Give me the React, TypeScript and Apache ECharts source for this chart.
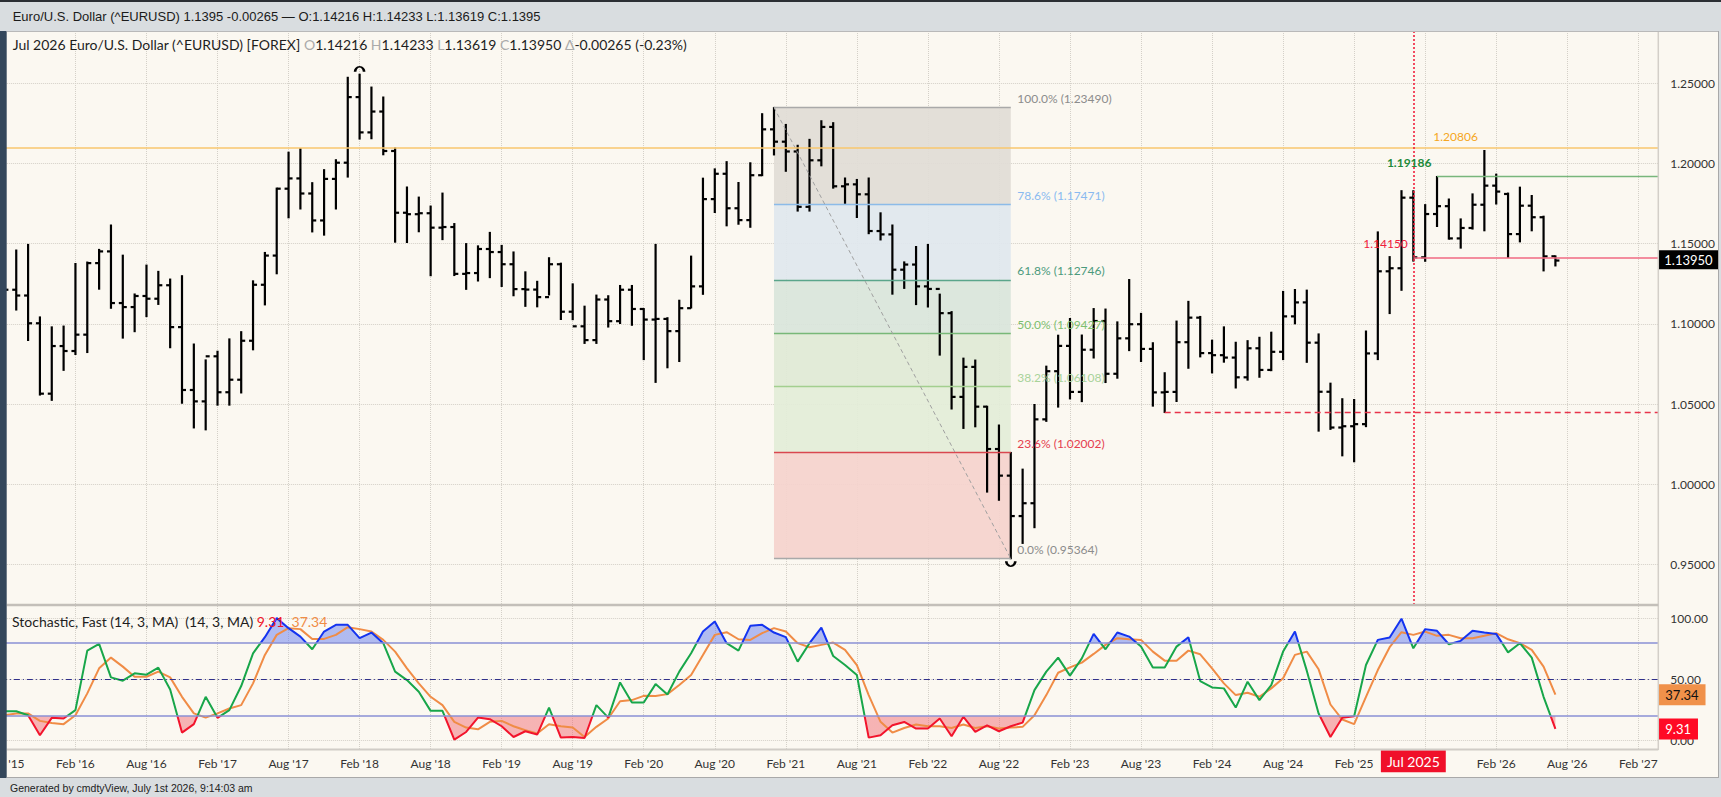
import React, { useEffect, useRef } from 'react';
import * as echarts from 'echarts';

// ---------- DATA (monthly, first bar = Aug 2015, last bar = Jul 2026) ----------
const MONTH_NAMES = ['Jan', 'Feb', 'Mar', 'Apr', 'May', 'Jun', 'Jul', 'Aug', 'Sep', 'Oct', 'Nov', 'Dec'];
const START_YEAR = 2015;
const START_MONTH = 7; // Aug

const OPEN = [
  1.0983, 1.1213, 1.1177, 1.1004, 1.0565,
  1.0862, 1.0831, 1.0933, 1.1379, 1.1452, 1.1130, 1.1105, 1.1174, 1.1157, 1.1241, 1.0980, 1.0588,
  1.0517, 1.0798, 1.0574, 1.0652, 1.0895, 1.1244, 1.1426, 1.1843, 1.1907, 1.1813, 1.1645, 1.1904,
  1.2005, 1.2414, 1.2194, 1.2324, 1.2078, 1.1693, 1.1684, 1.1690, 1.1600, 1.1604, 1.1312, 1.1317,
  1.1467, 1.1448, 1.1372, 1.1217, 1.1214, 1.1167, 1.1372, 1.1076, 1.0985, 1.0899, 1.1152, 1.1017,
  1.1213, 1.1093, 1.1027, 1.1031, 1.0955, 1.1098, 1.1234, 1.1778, 1.1936, 1.1721, 1.1647, 1.1927,
  1.2213, 1.2136, 1.2075, 1.1730, 1.2020, 1.2228, 1.1858, 1.1870, 1.1808, 1.1579, 1.1558, 1.1338,
  1.1370, 1.1234, 1.1218, 1.1067, 1.0545, 1.0732, 1.0484, 1.0220, 1.0054, 0.9802, 0.9882, 1.0405,
  1.0705, 1.0863, 1.0576, 1.0839, 1.1018, 1.0689, 1.0910, 1.0998, 1.0844, 1.0573, 1.0576, 1.0886,
  1.1039, 1.0818, 1.0805, 1.0790, 1.0667, 1.0848, 1.0713, 1.0826, 1.1047, 1.1134, 1.0883, 1.0577,
  1.0354, 1.0362, 1.0375, 1.0816, 1.1328, 1.1347, 1.1787, 1.1415, 1.1685, 1.1734, 1.1533, 1.1598,
  1.1743, 1.1862, 1.1810, 1.1560, 1.1737, 1.1665, 1.14216,
];
const HIGH = [
  1.1714, 1.1460, 1.1495, 1.1043, 1.0981,
  1.0986, 1.1376, 1.1385, 1.1464, 1.1616, 1.1428, 1.1186, 1.1366, 1.1327, 1.1279, 1.1300, 1.0874,
  1.0775, 1.0829, 1.0906, 1.0951, 1.1268, 1.1445, 1.1846, 1.2070, 1.2092, 1.1880, 1.1961, 1.2023,
  1.2537, 1.2556, 1.2476, 1.2414, 1.2096, 1.1853, 1.1790, 1.1734, 1.1815, 1.1625, 1.1500, 1.1486,
  1.1570, 1.1489, 1.1448, 1.1324, 1.1265, 1.1412, 1.1378, 1.1249, 1.1110, 1.1179, 1.1175, 1.1239,
  1.1239, 1.1095, 1.1495, 1.1038, 1.1147, 1.1422, 1.1908, 1.1966, 1.2011, 1.1881, 1.2004, 1.2310,
  1.2349, 1.2243, 1.2113, 1.2150, 1.2266, 1.2254, 1.1909, 1.1900, 1.1909, 1.1692, 1.1616, 1.1386,
  1.1482, 1.1495, 1.1185, 1.1076, 1.0786, 1.0774, 1.0486, 1.0369, 1.0198, 1.0094, 1.0497, 1.0736,
  1.0929, 1.1033, 1.0930, 1.1095, 1.1092, 1.1012, 1.1276, 1.1065, 1.0882, 1.0695, 1.1017, 1.1140,
  1.1046, 1.0898, 1.0981, 1.0885, 1.0895, 1.0916, 1.0948, 1.1202, 1.1214, 1.1210, 1.0937, 1.0630,
  1.0533, 1.0528, 1.0955, 1.1573, 1.1419, 1.1830, 1.1830, 1.1743, 1.19186, 1.1778, 1.1654, 1.1810,
  1.20806, 1.1933, 1.1815, 1.1852, 1.1800, 1.1671, 1.14233,
];
const LOW = [
  1.0848, 1.1087, 1.0897, 1.0557, 1.0524,
  1.0711, 1.0810, 1.0822, 1.1217, 1.1098, 1.0912, 1.0952, 1.1046, 1.1122, 1.0852, 1.0506, 1.0352,
  1.0340, 1.0494, 1.0494, 1.0570, 1.0839, 1.1119, 1.1313, 1.1662, 1.1717, 1.1574, 1.1554, 1.1717,
  1.1916, 1.2153, 1.2155, 1.2055, 1.1510, 1.1508, 1.1575, 1.1301, 1.1526, 1.1302, 1.1216, 1.1268,
  1.1289, 1.1234, 1.1176, 1.1110, 1.1107, 1.1181, 1.1028, 1.1027, 1.0879, 1.0879, 1.0981, 1.1003,
  1.0992, 1.0778, 1.0636, 1.0727, 1.0766, 1.1100, 1.1185, 1.1695, 1.1612, 1.1622, 1.1603, 1.1925,
  1.2054, 1.1952, 1.1704, 1.1704, 1.1986, 1.1847, 1.1752, 1.1664, 1.1563, 1.1524, 1.1186, 1.1222,
  1.1121, 1.1106, 1.0806, 1.0470, 1.0349, 1.0359, 0.9952, 0.9901, 0.95364, 0.9632, 0.9730, 1.0393,
  1.0482, 1.0533, 1.0516, 1.0788, 1.0635, 1.0662, 1.0834, 1.0766, 1.0488, 1.0448, 1.0517, 1.0724,
  1.0795, 1.0695, 1.0762, 1.0601, 1.0650, 1.0668, 1.0709, 1.0778, 1.1001, 1.0761, 1.0332, 1.0343,
  1.0178, 1.0141, 1.0360, 1.0778, 1.1065, 1.1210, 1.1392, 1.1391, 1.1608, 1.1529, 1.1473, 1.1592,
  1.1581, 1.1748, 1.1415, 1.1512, 1.1581, 1.1331, 1.13619,
];
const CLOSE = [
  1.1213, 1.1177, 1.1004, 1.0565, 1.0862,
  1.0831, 1.0933, 1.1379, 1.1452, 1.1130, 1.1105, 1.1174, 1.1157, 1.1241, 1.0980, 1.0588, 1.0517,
  1.0798, 1.0574, 1.0652, 1.0895, 1.1244, 1.1426, 1.1843, 1.1907, 1.1813, 1.1645, 1.1904, 1.2005,
  1.2414, 1.2194, 1.2324, 1.2078, 1.1693, 1.1684, 1.1690, 1.1600, 1.1604, 1.1312, 1.1317, 1.1467,
  1.1448, 1.1372, 1.1217, 1.1214, 1.1167, 1.1372, 1.1076, 1.0985, 1.0899, 1.1152, 1.1017, 1.1213,
  1.1093, 1.1027, 1.1031, 1.0955, 1.1098, 1.1234, 1.1778, 1.1936, 1.1721, 1.1647, 1.1927, 1.2213,
  1.2136, 1.2075, 1.1730, 1.2020, 1.2228, 1.1858, 1.1870, 1.1808, 1.1579, 1.1558, 1.1338, 1.1370,
  1.1234, 1.1218, 1.1067, 1.0545, 1.0732, 1.0484, 1.0220, 1.0054, 0.9802, 0.9882, 1.0405, 1.0705,
  1.0863, 1.0576, 1.0839, 1.1018, 1.0689, 1.0910, 1.0998, 1.0844, 1.0573, 1.0576, 1.0886, 1.1039,
  1.0818, 1.0805, 1.0790, 1.0667, 1.0848, 1.0713, 1.0826, 1.1047, 1.1134, 1.0883, 1.0577, 1.0354,
  1.0362, 1.0375, 1.0816, 1.1328, 1.1347, 1.1787, 1.1415, 1.1685, 1.1734, 1.1533, 1.1598, 1.1743,
  1.1862, 1.1825, 1.1560, 1.1737, 1.1665, 1.1421, 1.1395,
];
// Stochastic Fast (14,3) values
const STOCH_K = [
  23.8, 23.8, 20.5, 4.1, 18.4, 17.8, 24.7, 73.4, 78.9, 51.5, 48.8, 54.8, 53.7, 59.5, 41.6, 6.3, 13.2, 35.6, 18.4, 24.7,
  44.4, 71.2, 84.4, 100, 91.8, 84.9, 74.5, 89, 94.5, 94.5, 83.6, 88.2, 79.5, 56.2, 49.3, 39.7, 24.1, 24.1, 0.5, 6.8,
  18.6, 17.3, 11.5, 2.7, 7.4, 4.7, 26.8, 2.2, 2.7, 1.9, 28.8, 18.6, 47.4, 31, 31, 46, 37.5, 56.2, 71.2, 89,
  97.3, 79.5, 73.4, 93.7, 94.5, 88.2, 84.4, 64.4, 79.5, 92.3, 69, 61.6, 53.4, 2.2, 4.1, 12.3, 15, 9.6, 9.6, 17.8,
  3.3, 19.2, 6.8, 12.3, 7.4, 11.5, 14.5, 41.1, 56.2, 67.7, 52.9, 67.1, 87.1, 74.5, 88.2, 84.9, 76.7, 59.5, 59.5, 76.7,
  84.4, 48.5, 43.3, 42.5, 26.8, 47.9, 32.9, 45.2, 72.6, 89, 57, 21.9, 2.7, 18.4, 19.7, 61.6, 82.2, 84.1, 99.5, 75.3,
  91, 89.6, 78.6, 81.4, 89.6, 88.2, 87.1, 72, 79.5, 67.7, 35.6, 9.31,
];
const STOCH_D = [
  20.5, 22, 22, 15.9, 14.2, 13.2, 20.5, 38.4, 58.9, 67.7, 60.3, 52, 52, 56.2, 51.5, 35.6, 22, 18.6, 22, 26,
  28.8, 46.6, 69.9, 86.3, 91.8, 91, 83, 83, 86.3, 92.6, 91, 89, 82.2, 72.6, 58.9, 46.6, 35.6, 28.8, 15.1, 10.4,
  9, 15.1, 15.9, 11.5, 8.2, 5.5, 13.2, 11.5, 10.4, 2.7, 11, 17.8, 32, 32.9, 36.4, 36.2, 37.8, 45.2, 53.4, 69.9,
  86.3, 88.5, 82.7, 82.2, 87.7, 91.8, 89, 79.5, 76.2, 78.1, 80, 74, 61.6, 37, 15.1, 6.3, 10.1, 12.9, 11.5, 11.5,
  10.1, 12.9, 10.1, 11.5, 9.6, 10.4, 11, 20.5, 37, 55.3, 59.7, 63.6, 70.7, 78.1, 83.6, 82.7, 82.2, 72.6, 65.2, 65.2,
  73.4, 70.4, 58.9, 46.6, 37, 38.9, 35.6, 42.5, 50.8, 69.9, 72.6, 58.1, 29.3, 17, 13.2, 35.6, 57.5, 76.2, 88.5, 86.3,
  89, 85.5, 86.3, 83.6, 83.6, 85.5, 87.7, 82.7, 79.5, 74, 60.3, 37.34,
];

const TICK_INDEX = [0, 6, 12, 18, 24, 30, 36, 42, 48, 54, 60, 66, 72, 78, 84, 90, 96, 102, 108, 114, 120, 126, 132, 138];
const TICK_LABELS = [
  "Aug '15", "Feb '16", "Aug '16", "Feb '17", "Aug '17", "Feb '18", "Aug '18", "Feb '19", "Aug '19", "Feb '20",
  "Aug '20", "Feb '21", "Aug '21", "Feb '22", "Aug '22", "Feb '23", "Aug '23", "Feb '24", "Aug '24", "Feb '25",
  "Aug '25", "Feb '26", "Aug '26", "Feb '27",
];
const PRICE_TICKS = [0.95, 1.0, 1.05, 1.1, 1.15, 1.2, 1.25];
const STOCH_TICKS = [0, 50, 100];

// Fibonacci retracement
const FIB_START = 65; // Jan 2021
const FIB_END = 85; // Sep 2022
const FIB_PCT = [100, 78.6, 61.8, 50, 38.2, 23.6, 0];
const FIB_LEVEL = [1.2349, 1.17471, 1.12746, 1.09427, 1.06108, 1.02002, 0.95364];
const FIB_LINE_COLORS = ['#a9a9a9', '#8cbbe8', '#5aa58b', '#78b878', '#a3cf8f', '#d9474f', '#a9a9a9'];
const FIB_TEXT_COLORS = ['#8c8c8c', '#89baf0', '#4b9a7c', '#7dbf6f', '#a9d39a', '#e5404e', '#8c8c8c'];
const FIB_ZONE_COLORS = ['#e1dcd6', '#dfe7ee', '#d9e5db', '#dfe9d6', '#e3edd8', '#f5d3cd'];

// Key levels
const LEVEL_HIGH = 1.20806; const LEVEL_HIGH_IDX = 125;
const LEVEL_SEP = 1.19186; const LEVEL_SEP_IDX = 121;
const LEVEL_JUL = 1.1415; const LEVEL_JUL_IDX = 119;
const LEVEL_OCT23 = 1.0448; const LEVEL_OCT23_IDX = 98;
const CURSOR_IDX = 119; const CURSOR_LABEL = 'Jul 2025';

const XMIN = -0.3;
const XMAX = 139.69;
const CLEAR = 'rgba(0,0,0,0)';

const App: React.FC = () => {
  const ref = useRef<HTMLDivElement>(null);

  useEffect(() => {
    if (!ref.current) return;
    const chart = echarts.init(ref.current, undefined, { renderer: 'svg' });
    const n = CLOSE.length;
    const MONTHS = OPEN.map((_, i) => {
      const m = START_MONTH + i;
      return MONTH_NAMES[m % 12] + ' ' + (START_YEAR + Math.floor(m / 12));
    });
    const ohlc = OPEN.map((o, i) => [i, o, HIGH[i], LOW[i], CLOSE[i]]);
    const closeLine = CLOSE.map((c, i) => [i, c]);
    const kData = STOCH_K.map((v, i) => [i, v]);
    const dData = STOCH_D.map((v, i) => [i, v]);
    const font = 'Lato';

    const fibAreas = FIB_ZONE_COLORS.map((col, k) => [
      { coord: [FIB_START, FIB_LEVEL[k]], itemStyle: { color: col, opacity: 0.92 } },
      { coord: [FIB_END, FIB_LEVEL[k + 1]] },
    ]);
    const fibLines = FIB_LEVEL.map((lv, k) => [
      { coord: [FIB_START, lv], lineStyle: { color: FIB_LINE_COLORS[k], width: 1.3, type: 'solid' } },
      { coord: [FIB_END, lv] },
    ]);
    const labelPoint = (coord: number[], text: string, color: string, pos: string, offset: number[], bold = false) => ({
      coord,
      symbol: 'circle',
      symbolSize: 1,
      symbolOffset: offset,
      itemStyle: { color: CLEAR },
      label: {
        show: true,
        position: pos,
        distance: 0,
        formatter: text,
        color,
        fontSize: 12,
        fontFamily: font,
        fontWeight: bold ? 'bold' : 'normal',
      },
    });
    const fibLabels = FIB_LEVEL.map((lv, k) =>
      labelPoint([FIB_END, lv], `${FIB_PCT[k].toFixed(1)}% (${lv.toFixed(5)})`, FIB_TEXT_COLORS[k], 'right', [6, -9])
    );

    const splitDotted = { show: true, lineStyle: { type: 'dotted', color: '#d4d0c8', width: 1 } };
    const AXIS_TICKS = TICK_INDEX.slice(1);
    const NB = '\u00a0';

    const graphics: any[] = [
      { type: 'rect', z: 100, silent: true, shape: { x: 0, y: 0, width: 1721, height: 31 }, style: { fill: '#d9dde0' } },
      { type: 'rect', z: 100, silent: true, shape: { x: 0, y: 0, width: 1721, height: 2 }, style: { fill: '#2b2f34' } },
      {
        type: 'text', z: 101, silent: true, x: 12.7, y: 16,
        style: {
          text: 'Euro/U.S. Dollar (^EURUSD) 1.1395 -0.00265 \u2014 O:1.14216 H:1.14233 L:1.13619 C:1.1395',
          fill: '#1b1b1b', font: '13px "Liberation Sans", Arial, sans-serif', verticalAlign: 'middle',
        },
      },
      { type: 'rect', z: 100, silent: true, shape: { x: 0, y: 31, width: 6.7, height: 747 }, style: { fill: '#34475b' } },
      { type: 'rect', z: 100, silent: true, shape: { x: 0, y: 778, width: 1721, height: 19 }, style: { fill: '#d9dde0' } },
      { type: 'rect', z: 100, silent: true, shape: { x: 1718.5, y: 31, width: 2.5, height: 747 }, style: { fill: '#d9dde0' } },
      { type: 'line', z: 100, silent: true, shape: { x1: 6.7, y1: 31.5, x2: 1718.5, y2: 31.5 }, style: { stroke: '#b9b9b9', lineWidth: 1 } },
      { type: 'line', z: 100, silent: true, shape: { x1: 1718.5, y1: 31, x2: 1718.5, y2: 778 }, style: { stroke: '#a9a9a9', lineWidth: 1 } },
      { type: 'line', z: 100, silent: true, shape: { x1: 6.7, y1: 777.5, x2: 1718.5, y2: 777.5 }, style: { stroke: '#a9a9a9', lineWidth: 1 } },
      { type: 'line', z: 99, silent: true, shape: { x1: 1658.3, y1: 31, x2: 1658.3, y2: 750 }, style: { stroke: '#d3cfc9', lineWidth: 1.5 } },
      { type: 'line', z: 99, silent: true, shape: { x1: 6.7, y1: 605, x2: 1658.3, y2: 605 }, style: { stroke: '#c3bfb9', lineWidth: 2.5 } },
      { type: 'line', z: 99, silent: true, shape: { x1: 6.7, y1: 749.5, x2: 1658.3, y2: 749.5 }, style: { stroke: '#d0ccc6', lineWidth: 2 } },
      {
        type: 'text', z: 101, silent: true, x: 10, y: 788,
        style: {
          text: 'Generated by cmdtyView, July 1st 2026, 9:14:03 am',
          fill: '#222', font: '10.5px "Liberation Sans", Arial, sans-serif', verticalAlign: 'middle',
        },
      },
      {
        type: 'text', z: 101, silent: true, x: 12.7, y: 44.5,
        style: {
          text: `{d|${MONTHS[n - 1]} Euro/U.S. Dollar (^EURUSD) [FOREX]${NB}}{g|O}{d|${OPEN[n - 1].toFixed(5)}${NB}}{g|H}{d|${HIGH[n - 1].toFixed(5)}${NB}}{g|L}{d|${LOW[n - 1].toFixed(5)}${NB}}{g|C}{d|${CLOSE[n - 1].toFixed(5)}${NB}}{g|\u0394}{d|-0.00265 (-0.23%)}`,
          verticalAlign: 'middle',
          font: '14px Lato',
          rich: {
            d: { fill: '#1e1e1e', fontSize: 14, fontFamily: font },
            g: { fill: '#aaaaaa', fontSize: 14, fontFamily: font },
          },
        },
      },
      {
        type: 'text', z: 101, silent: true, x: 12, y: 621,
        style: {
          text: `{d|Stochastic, Fast (14, 3, MA)${NB}${NB}(14, 3, MA)${NB}}{r|${STOCH_K[n - 1].toFixed(2)}${NB}${NB}}{o|${STOCH_D[n - 1].toFixed(2)}}`,
          verticalAlign: 'middle',
          font: '14px Lato',
          rich: {
            d: { fill: '#1e1e1e', fontSize: 14, fontFamily: font },
            r: { fill: '#f0142a', fontSize: 14, fontFamily: font },
            o: { fill: '#f08c46', fontSize: 14, fontFamily: font },
          },
        },
      },
    ];

    const option: any = {
      animation: false,
      backgroundColor: '#fbf8f1',
      textStyle: { fontFamily: font },
      grid: [
        { left: 0.85, top: 31, width: 1657.45, height: 574 },
        { left: 0.85, top: 606, width: 1657.45, height: 143.3 },
      ],
      xAxis: [
        {
          type: 'value', gridIndex: 0, min: XMIN, max: XMAX,
          axisLine: { show: false },
          axisTick: { show: false, customValues: TICK_INDEX },
          axisLabel: { show: false, customValues: TICK_INDEX },
          splitLine: splitDotted,
        },
        {
          type: 'value', gridIndex: 1, min: XMIN, max: XMAX,
          axisLine: { show: false },
          axisTick: { show: false, customValues: TICK_INDEX },
          axisLabel: {
            show: true,
            customValues: AXIS_TICKS,
            formatter: (v: number) => {
              const k = TICK_INDEX.indexOf(Math.round(v));
              return k >= 0 ? TICK_LABELS[k] : '';
            },
            color: '#333',
            fontSize: 12,
            fontFamily: font,
            margin: 8,
          },
          splitLine: splitDotted,
        },
      ],
      yAxis: [
        {
          type: 'value', gridIndex: 0, position: 'right', min: 0.92475, max: 1.28261,
          axisLine: { show: false },
          axisTick: { show: false, customValues: PRICE_TICKS },
          axisLabel: {
            customValues: PRICE_TICKS,
            formatter: (v: number) => v.toFixed(5),
            color: '#333', fontSize: 12, fontFamily: font, margin: 12,
          },
          splitLine: splitDotted,
        },
        {
          type: 'value', gridIndex: 1, position: 'right', min: -7.37, max: 109.93,
          axisLine: { show: false },
          axisTick: { show: false, customValues: STOCH_TICKS },
          axisLabel: {
            customValues: STOCH_TICKS,
            formatter: (v: number) => v.toFixed(2),
            color: '#333', fontSize: 12, fontFamily: font, margin: 12,
          },
          splitLine: splitDotted,
        },
      ],
      visualMap: [
        {
          type: 'piecewise', show: false, seriesIndex: 3, dimension: 1,
          pieces: [
            { lt: 20, color: '#f2142c' },
            { gte: 20, lte: 80, color: '#18a64a' },
            { gt: 80, color: '#1434f0' },
          ],
        },
        {
          type: 'piecewise', show: false, seriesIndex: 2, dimension: 1,
          pieces: [
            { lt: 20, color: 'rgba(240,95,105,0.45)' },
            { gte: 20, lte: 80, color: CLEAR },
            { gt: 80, color: 'rgba(95,120,240,0.48)' },
          ],
        },
      ],
      series: [
        {
          name: 'OHLC',
          type: 'custom',
          xAxisIndex: 0,
          yAxisIndex: 0,
          z: 3,
          silent: true,
          data: ohlc,
          encode: { x: 0, y: [1, 2, 3, 4] },
          renderItem: (params: any, api: any) => {
            const x = api.value(0);
            const o = api.coord([x, api.value(1)]);
            const h = api.coord([x, api.value(2)]);
            const l = api.coord([x, api.value(3)]);
            const c = api.coord([x, api.value(4)]);
            const style = { stroke: '#000', lineWidth: 2.2, fill: null };
            return {
              type: 'group',
              children: [
                { type: 'line', shape: { x1: h[0], y1: h[1] - 0.6, x2: l[0], y2: l[1] + 0.6 }, style },
                { type: 'line', shape: { x1: o[0] - 4, y1: o[1], x2: o[0], y2: o[1] }, style },
                { type: 'line', shape: { x1: c[0], y1: c[1], x2: c[0] + 4, y2: c[1] }, style },
              ],
            };
          },
        },
        {
          name: 'Close',
          type: 'line',
          xAxisIndex: 0,
          yAxisIndex: 0,
          z: 1,
          silent: true,
          data: closeLine,
          symbol: 'none',
          lineStyle: { width: 0, color: CLEAR },
          markArea: { silent: true, label: { show: false }, data: fibAreas },
          markLine: {
            silent: true,
            symbol: 'none',
            label: { show: false },
            data: [
              ...fibLines,
              [
                { coord: [FIB_START, FIB_LEVEL[0]], lineStyle: { color: '#a0a0a0', width: 1, type: [4, 3] } },
                { coord: [FIB_END, FIB_LEVEL[FIB_LEVEL.length - 1]] },
              ],
              { yAxis: LEVEL_HIGH, lineStyle: { color: '#f8c76e', width: 1.6, type: 'solid' } },
              [
                { coord: [LEVEL_SEP_IDX, LEVEL_SEP], lineStyle: { color: '#78b67c', width: 1.3, type: 'solid' } },
                { coord: [XMAX, LEVEL_SEP] },
              ],
              [
                { coord: [LEVEL_JUL_IDX, LEVEL_JUL], lineStyle: { color: '#f06a82', width: 1.5, type: 'solid' } },
                { coord: [XMAX, LEVEL_JUL] },
              ],
              [
                { coord: [LEVEL_OCT23_IDX, LEVEL_OCT23], lineStyle: { color: '#e8344c', width: 1.3, type: [6, 4] } },
                { coord: [XMAX, LEVEL_OCT23] },
              ],
              { xAxis: CURSOR_IDX, lineStyle: { color: '#f0203c', width: 1.6, type: [2, 2] } },
              {
                yAxis: CLOSE[n - 1],
                lineStyle: { color: CLEAR, width: 0.1 },
                label: {
                  show: true, position: 'end', distance: 0,
                  formatter: CLOSE[n - 1].toFixed(5),
                  backgroundColor: '#000', color: '#fff',
                  padding: [3, 6], fontSize: 13, fontFamily: font,
                },
              },
            ],
          },
          markPoint: {
            silent: true,
            data: [
              ...fibLabels,
              labelPoint([LEVEL_HIGH_IDX, LEVEL_HIGH], LEVEL_HIGH.toFixed(5), '#f5a623', 'left', [-6, -14]),
              labelPoint([LEVEL_SEP_IDX, LEVEL_SEP], LEVEL_SEP.toFixed(5), '#1e8a3a', 'left', [-5, -14], true),
              labelPoint([LEVEL_JUL_IDX, LEVEL_JUL], LEVEL_JUL.toFixed(5), '#f0203c', 'left', [-5, -14]),
              {
                coord: [30, HIGH[30]],
                symbol: 'path://M0,6 A6,6 0 0 1 12,6',
                symbolSize: [9, 5],
                symbolOffset: [0, -5],
                itemStyle: { color: CLEAR, borderColor: '#000', borderWidth: 2 },
                label: { show: false },
              },
              {
                coord: [FIB_END, LOW[FIB_END]],
                symbol: 'path://M0,0 A6,6 0 0 0 12,0',
                symbolSize: [9, 5],
                symbolOffset: [0, 5],
                itemStyle: { color: CLEAR, borderColor: '#000', borderWidth: 2 },
                label: { show: false },
              },
            ],
          },
        },
        {
          name: 'StochFill',
          type: 'line',
          xAxisIndex: 1,
          yAxisIndex: 1,
          z: 2,
          silent: true,
          data: kData,
          symbol: 'none',
          lineStyle: { width: 0, opacity: 0 },
          areaStyle: { origin: 50, opacity: 1 },
        },
        {
          name: '%K',
          type: 'line',
          xAxisIndex: 1,
          yAxisIndex: 1,
          z: 4,
          silent: true,
          data: kData,
          symbol: 'none',
          lineStyle: { width: 2 },
          markLine: {
            silent: true,
            symbol: 'none',
            data: [
              {
                yAxis: STOCH_K[n - 1],
                lineStyle: { color: CLEAR, width: 0.1 },
                label: {
                  show: true, position: 'end', distance: 0,
                  formatter: STOCH_K[n - 1].toFixed(2),
                  backgroundColor: '#ff0a25', color: '#fff',
                  padding: [4, 7], fontSize: 13, fontFamily: font,
                },
              },
              {
                xAxis: CURSOR_IDX,
                lineStyle: { color: CLEAR, width: 0.1 },
                label: {
                  show: true, position: 'start', distance: 1,
                  formatter: CURSOR_LABEL,
                  backgroundColor: '#f0102a', color: '#fff',
                  padding: [4, 6], fontSize: 14, fontFamily: font,
                },
              },
            ],
          },
        },
        {
          name: '%D',
          type: 'line',
          xAxisIndex: 1,
          yAxisIndex: 1,
          z: 3,
          silent: true,
          data: dData,
          symbol: 'none',
          lineStyle: { width: 2, color: '#f08c46' },
          itemStyle: { color: '#f08c46' },
          markLine: {
            silent: true,
            symbol: 'none',
            label: { show: false },
            data: [
              { yAxis: 80, lineStyle: { color: '#8a90d4', width: 1.6, type: 'solid' } },
              { yAxis: 20, lineStyle: { color: '#8a90d4', width: 1.6, type: 'solid' } },
              { yAxis: 50, lineStyle: { color: '#30308a', width: 1, type: [6, 3, 1, 3] } },
              {
                yAxis: STOCH_D[n - 1],
                lineStyle: { color: CLEAR, width: 0.1 },
                label: {
                  show: true, position: 'end', distance: 0,
                  formatter: STOCH_D[n - 1].toFixed(2),
                  backgroundColor: '#f0914a', color: '#111',
                  padding: [4, 7], fontSize: 13, fontFamily: font,
                },
              },
            ],
          },
        },
      ],
      graphic: graphics,
    };

    chart.setOption(option);

    // first (partially hidden) x label, placed through the axis scale
    const firstX = chart.convertToPixel({ xAxisIndex: 1 } as any, TICK_INDEX[0]) as unknown as number;
    if (typeof firstX === 'number' && isFinite(firstX)) {
      chart.setOption({
        graphic: [
          ...graphics,
          {
            type: 'text', z: 50, silent: true, x: firstX, y: 763,
            style: {
              text: TICK_LABELS[0], fill: '#333', font: '12px Lato',
              align: 'center', verticalAlign: 'middle',
            },
          },
        ],
      });
    }

    return () => {
      chart.dispose();
    };
  }, []);

  return (
    <div
      ref={ref}
      style={{ position: 'fixed', left: 0, top: 0, width: 1721, height: 797 }}
    />
  );
};

export default App;
